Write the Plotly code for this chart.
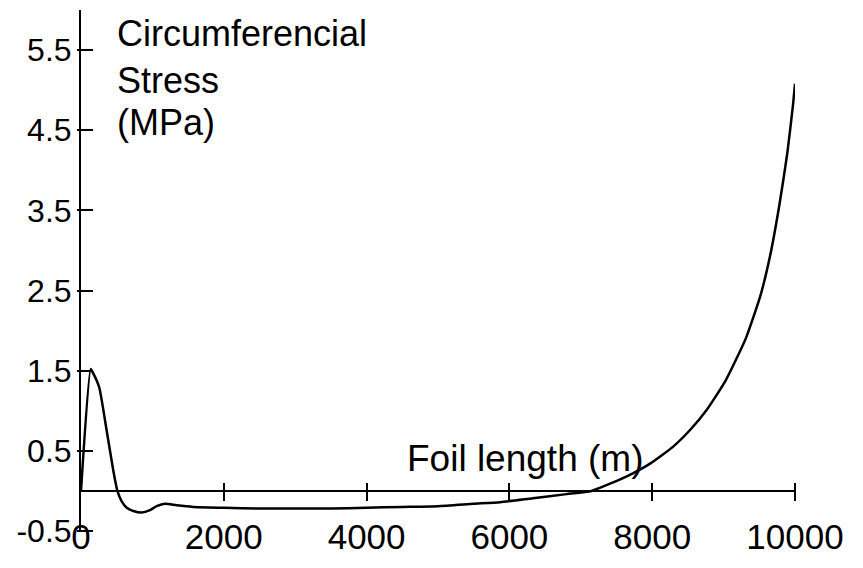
import plotly.graph_objects as go

# Foil length (m)
foil_length = [0, 136, 170, 256, 360, 453, 509, 570, 640, 733, 850, 966, 1060, 1176,
               1340, 1573, 2000, 2500, 3000, 3500, 4000, 4500, 5000, 5500, 5870, 6330,
               6800, 7150, 7410, 7730, 7970, 8290, 8530, 8770, 9030, 9310, 9520,
               9660, 9780, 9890, 9970, 10000]
# Circumferencial stress (MPa)
stress = [0.0, 1.52, 1.47, 1.29, 0.75, 0.25, 0.0, -0.13, -0.21, -0.25, -0.27, -0.24,
          -0.19, -0.16, -0.18, -0.2, -0.21, -0.22, -0.22, -0.22, -0.21, -0.2, -0.19,
          -0.16, -0.14, -0.09, -0.04, 0.0, 0.09, 0.22, 0.34, 0.55, 0.76, 1.02,
          1.38, 1.9, 2.45, 2.97, 3.56, 4.2, 4.8, 5.08]

x_tick_vals = [0, 2000, 4000, 6000, 8000, 10000]
x_tick_text = ["0", "2000", "4000", "6000", "8000", "10000"]
y_tick_vals = [-0.5, 0.5, 1.5, 2.5, 3.5, 4.5, 5.5]
y_tick_text = ["-0.5", "0.5", "1.5", "2.5", "3.5", "4.5", "5.5"]

FONT = "Liberation Sans, Arial, sans-serif"
XR = [0, 10000]
YR = [-0.5, 6.0]

fig = go.Figure()
fig.add_trace(go.Scatter(x=foil_length, y=stress, mode="lines",
                         line=dict(color="black", width=2.5, shape="spline", smoothing=0.5),
                         hoverinfo="skip"))
# empty traces so the overlay tick axes get drawn
fig.add_trace(go.Scatter(x=[], y=[], xaxis="x2", yaxis="y", hoverinfo="skip"))
fig.add_trace(go.Scatter(x=[], y=[], xaxis="x", yaxis="y2", hoverinfo="skip"))

fig.update_layout(
    width=863, height=568,
    margin=dict(l=81, r=68, t=10, b=37),
    paper_bgcolor="white", plot_bgcolor="white",
    showlegend=False,
    font=dict(family=FONT, color="black"),
    xaxis=dict(range=XR, anchor="free", position=0.035, showline=False, ticks="",
               tickvals=x_tick_vals, ticktext=x_tick_text, showgrid=False,
               zeroline=False, tickfont=dict(size=35, family=FONT, color="black")),
    xaxis2=dict(range=XR, overlaying="x", anchor="free", position=0.094,
                showline=False, ticks="outside", ticklen=18, tickwidth=2,
                tickcolor="black", tickvals=x_tick_vals[1:], showticklabels=False,
                showgrid=False, zeroline=False),
    yaxis=dict(range=YR, showline=True, linewidth=2, linecolor="black", ticks="",
               tickvals=y_tick_vals, ticktext=y_tick_text, showgrid=False,
               zeroline=True, zerolinecolor="black", zerolinewidth=2,
               ticklabelstandoff=1,
               tickfont=dict(size=32, family=FONT, color="black")),
    yaxis2=dict(range=YR, overlaying="y", anchor="free", position=0.0168, side="left",
                showline=False, ticks="outside", ticklen=16, tickwidth=2,
                tickcolor="black", tickvals=y_tick_vals, showticklabels=False,
                showgrid=False, zeroline=False),
)

ann_font = dict(family=FONT, size=36, color="black")
for txt, yy in [("Circumferencial", 0.954), ("Stress", 0.864), ("(MPa)", 0.785)]:
    fig.add_annotation(text=txt, xref="paper", yref="paper", x=0.0476, y=yy,
                       xanchor="left", yanchor="middle", showarrow=False, font=ann_font)
fig.add_annotation(text="Foil length (m)", xref="paper", yref="paper", x=0.454, y=0.14,
                   xanchor="left", yanchor="middle", showarrow=False,
                   font=dict(family=FONT, size=37, color="black"))

fig.write_html("out.html")
